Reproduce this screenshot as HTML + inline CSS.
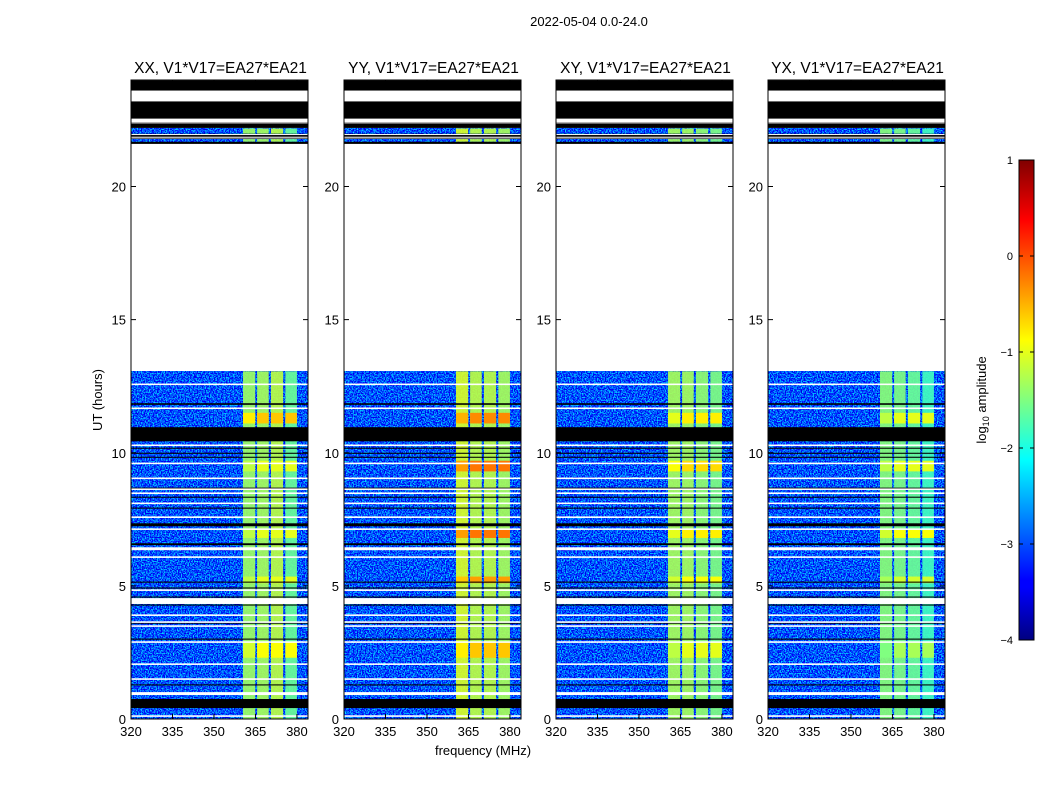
<!DOCTYPE html>
<html><head><meta charset="utf-8">
<style>
body{margin:0;background:#fff;font-family:"Liberation Sans",sans-serif;}
svg text{font-family:"Liberation Sans",sans-serif;}
</style></head>
<body>
<svg id="fig" width="1050" height="800" viewBox="0 0 1050 800" xmlns="http://www.w3.org/2000/svg">
<defs>
<filter id="noise" x="0" y="0" width="1" height="1">
<feTurbulence type="fractalNoise" baseFrequency="0.75" numOctaves="2" seed="3" result="n"/>
<feColorMatrix type="matrix" values="0 0 0 0 0  2.6 0 0 0 -1.2  1.2 0 0 0 0.45  0 0 0 0 1"/>
</filter>
<linearGradient id="jet" x1="0" y1="1" x2="0" y2="0">
<stop offset="0" stop-color="#000080"/><stop offset="0.11" stop-color="#0000ff"/>
<stop offset="0.125" stop-color="#0000ff"/><stop offset="0.375" stop-color="#00ffff"/>
<stop offset="0.5" stop-color="#80ff80"/><stop offset="0.625" stop-color="#ffff00"/>
<stop offset="0.875" stop-color="#ff0000"/><stop offset="1" stop-color="#800000"/>
</linearGradient>
</defs>
<text x="589" y="26" font-size="13" text-anchor="middle">2022-05-04 0.0-24.0</text>
<text transform="translate(102,400) rotate(-90)" font-size="13" text-anchor="middle">UT (hours)</text>
<text x="483" y="755" font-size="13" text-anchor="middle">frequency (MHz)</text>
<g id="panels"></g>
<g id="cbar"></g>
</svg>
<script>
const panelTitles = ["XX, V1*V17=EA27*EA21","YY, V1*V17=EA27*EA21","XY, V1*V17=EA27*EA21","YX, V1*V17=EA27*EA21"];
const xTicks = [320,335,350,365,380];
const yTicks = [0,5,10,15,20];
const dataRows = [[0,13.06],[21.98,22.18],[21.68,21.78]];
const blackRows = [[23.6,23.98],[22.55,23.2],[22.2,22.42],[21.8,21.98],[21.6,21.68],[11.8,11.86],[10.43,10.96],[10.15,10.19],[9.96,10.0],[9.81,9.85],[8.65,8.69],[8.31,8.35],[7.9,7.94],[7.24,7.35],[6.53,6.6],[5.12,5.16],[4.9,4.94],[4.56,4.6],[4.26,4.3],[3.58,3.62],[2.98,3.02],[1.26,1.3],[0.41,0.75]];
const whiteRows = [[23.2,23.6],[22.47,22.51],[22.37,22.41],[21.94,21.97],[21.84,21.87],[12.54,12.6],[11.64,11.7],[10.25,10.31],[9.57,9.63],[9.01,9.07],[8.6,8.66],[8.45,8.51],[8.07,8.13],[7.55,7.61],[7.1,7.16],[6.34,6.45],[6.05,6.11],[4.81,4.87],[4.32,4.54],[3.87,3.93],[3.61,3.67],[3.46,3.52],[2.86,2.92],[2.03,2.09],[1.47,1.53],[0.9,1.01],[0.08,0.14]];
const bandStart = [360.5,365.6,370.6,375.8];
const bandEnd = [364.9,369.8,375.0,380.0];
const bandAmp = [[-1.35,-1.3,-1.2,-1.6],[-1.05,-1.2,-1.2,-1.3],[-1.3,-1.3,-1.4,-1.5],[-1.45,-1.5,-1.6,-1.8]];
const hotRows = [[11.1,11.5],[9.3,9.7],[6.8,7.1],[5.1,5.35],[2.3,2.9]];
const hotAmp = [[-0.8,-1.2,-1.2,-1.2,-1.1],[-0.5,-0.4,-0.4,-0.6,-0.8],[-1.0,-0.9,-1.0,-1.1,-1.2],[-1.2,-1.2,-1.1,-1.3,-1.5]];
const cbTicks = [1,0,-1,-2,-3,-4];
const cbLabels = ["1","0","\u22121","\u22122","\u22123","\u22124"];

const NS="http://www.w3.org/2000/svg";
const panelX=[131,344,556,768], PW=177, PT=80, PB=719, XMIN=320, XMAX=384, YMAX=24;
function mk(t,a,p){const e=document.createElementNS(NS,t);for(const k in a)e.setAttribute(k,a[k]);p.appendChild(e);return e;}
function jet(v){const t=Math.max(0,Math.min(1,(v+4)/5));const c=x=>Math.round(255*Math.max(0,Math.min(1,1.5-Math.abs(x))));return `rgb(${c(4*t-3)},${c(4*t-2)},${c(4*t-1)})`;}
const panels=document.getElementById('panels');
panelX.forEach((x0,pi)=>{
  const sx=m=>x0+(m-XMIN)/(XMAX-XMIN)*PW;
  const sy=h=>PB-h/YMAX*(PB-PT);
  const g=mk('g',{},panels);
  
  
  const cp=mk('clipPath',{id:'cp'+pi},g);mk('rect',{x:x0,y:PT,width:PW,height:PB-PT},cp);
  const inner=mk('g',{'clip-path':`url(#cp${pi})`},g);
  mk('rect',{x:x0,y:PT,width:PW,height:PB-PT,fill:'#fff'},inner);
  dataRows.forEach(r=>{
    const bg=mk('rect',{x:x0,y:sy(r[1]),width:PW,height:sy(r[0])-sy(r[1]),fill:'#1050ff',filter:'url(#noise)'},inner);
    
    
    bandStart.forEach((b,bi)=>{
      const br=mk('rect',{x:sx(b),y:sy(r[1]),width:sx(bandEnd[bi])-sx(b),height:sy(r[0])-sy(r[1]),fill:jet(bandAmp[pi][bi]),opacity:0.92},inner);
      
      
    });
  });
  hotRows.forEach((hr,hi)=>{
    bandStart.forEach((b,bi)=>{
      const a=hotAmp[pi][hi]+(bi===0?0:0.2);
      const e=mk('rect',{x:sx(b),y:sy(hr[1]),width:sx(bandEnd[bi])-sx(b),height:sy(hr[0])-sy(hr[1]),fill:jet(a)},inner);
      
      
    });
  });
  blackRows.forEach(r=>{const e=mk('rect',{x:x0,y:sy(r[1]),width:PW,height:Math.max(1,sy(r[0])-sy(r[1])),fill:'#000'},inner);
    });
  whiteRows.forEach(r=>{const e=mk('rect',{x:x0,y:sy(r[1]),width:PW,height:Math.max(1,sy(r[0])-sy(r[1])),fill:'#fff'},inner);
    });
  const fr=mk('rect',{x:x0,y:PT,width:PW,height:PB-PT,fill:'none',stroke:'#000','stroke-width':1},g);
  
  const t=mk('text',{x:x0+PW/2+1,y:73,'font-size':15.5,'text-anchor':'middle'},g);t.textContent=panelTitles[pi];
  
  xTicks.forEach(v=>{const X=sx(v);
    mk('line',{x1:X,x2:X,y1:PB,y2:PB-5,stroke:'#000'},g);mk('line',{x1:X,x2:X,y1:PT,y2:PT+5,stroke:'#000'},g);
    const l=mk('text',{x:X,y:PB+17,'font-size':13,'text-anchor':'middle'},g);l.textContent=v;
    });
  yTicks.forEach(v=>{const Y=sy(v);
    mk('line',{x1:x0,x2:x0+5,y1:Y,y2:Y,stroke:'#000'},g);mk('line',{x1:x0+PW,x2:x0+PW-5,y1:Y,y2:Y,stroke:'#000'},g);
    const l=mk('text',{x:x0-5,y:Y+5,'font-size':13,'text-anchor':'end'},g);l.textContent=v;
    });
});
const cb=document.getElementById('cbar');
const CX=1019,CW=15,CT=160,CB=640;
const cy=v=>CT+(1-v)/5*(CB-CT);
mk('rect',{x:CX,y:CT,width:CW,height:CB-CT,fill:'url(#jet)',stroke:'#000'},cb);
cbTicks.forEach((v,i)=>{const Y=cy(v);
  mk('line',{x1:CX,x2:CX+4,y1:Y,y2:Y,stroke:'#000'},cb);mk('line',{x1:CX+CW,x2:CX+CW-4,y1:Y,y2:Y,stroke:'#000'},cb);
  const l=mk('text',{x:1013,y:Y+4,'font-size':11,'text-anchor':'end'},cb);l.textContent=cbLabels[i];
  });
const cl=mk('text',{transform:'translate(986,400) rotate(-90)','font-size':13,'text-anchor':'middle'},cb);

cl.innerHTML='log<tspan font-size="9" dy="3">10</tspan><tspan dy="-3"> amplitude</tspan>';
</script>
</body></html>
